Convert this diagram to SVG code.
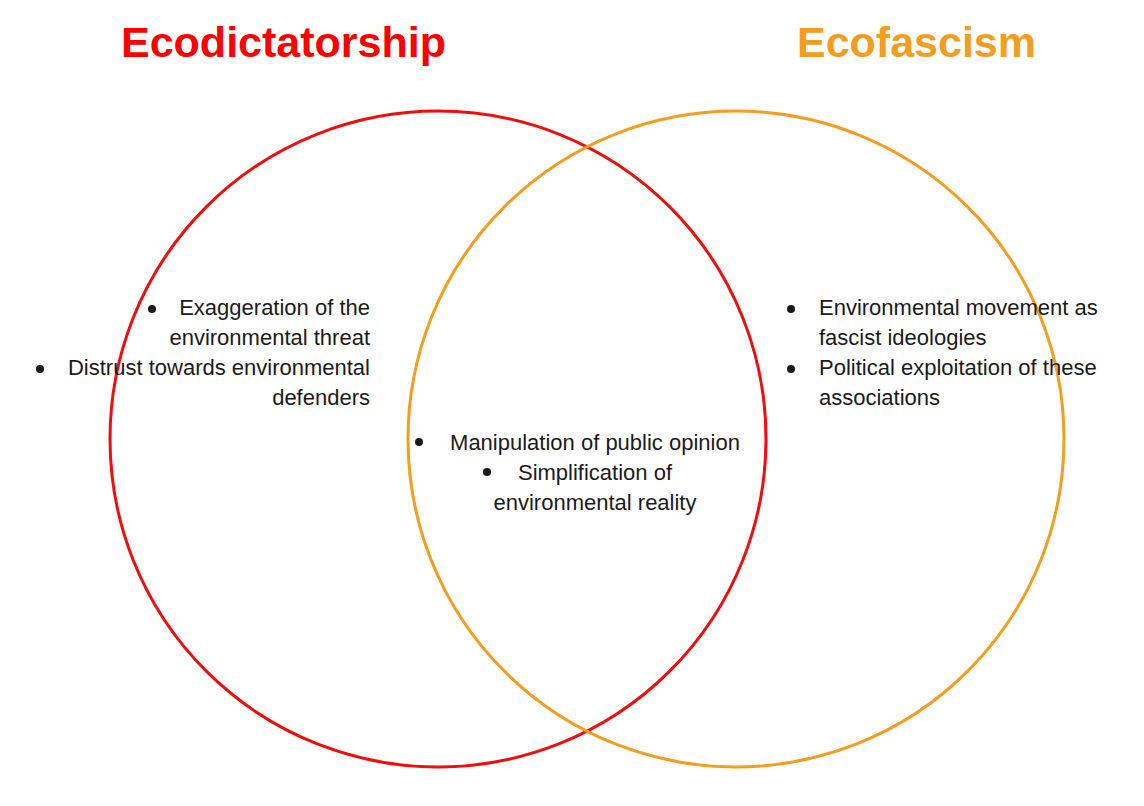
<svg xmlns="http://www.w3.org/2000/svg" width="1144" height="806" viewBox="0 0 1144 806">
<style>
.title{font-family:"Liberation Sans",Arial,sans-serif;font-weight:bold;font-size:43px}
.t{font-family:"Liberation Sans",Arial,sans-serif;font-size:22px;fill:#1a1a1a}
.b{fill:#1a1a1a}
.circ{fill:none;stroke-width:3}
</style>
<rect width="1144" height="806" fill="#fff"/>
<g id="ecodictatorship">
<circle class="circ" cx="438" cy="439" r="328" stroke="#f20d0d"/>
<text class="title" x="121" y="57" fill="#ff0000">Ecodictatorship</text>
<circle class="b" cx="152" cy="309" r="4"/>
<text class="t" x="370" y="315" text-anchor="end">Exaggeration of the</text>
<text class="t" x="370" y="345" text-anchor="end">environmental threat</text>
<circle class="b" cx="40" cy="369" r="4"/>
<text class="t" x="370" y="375" text-anchor="end">Distrust towards environmental</text>
<text class="t" x="370" y="405" text-anchor="end">defenders</text>
</g>
<g id="ecofascism">
<circle class="circ" cx="736" cy="439" r="328" stroke="#f59d1c"/>
<text class="title" x="797" y="57" fill="#f59d1c">Ecofascism</text>
<circle class="b" cx="791" cy="309" r="4"/>
<text class="t" x="819" y="315">Environmental movement as</text>
<text class="t" x="819" y="345">fascist ideologies</text>
<circle class="b" cx="791" cy="369" r="4"/>
<text class="t" x="819" y="375">Political exploitation of these</text>
<text class="t" x="819" y="405">associations</text>
</g>
<g id="overlap">
<circle class="b" cx="419" cy="442" r="4"/>
<text class="t" x="595" y="450" text-anchor="middle">Manipulation of public opinion</text>
<circle class="b" cx="487" cy="472" r="4"/>
<text class="t" x="595" y="480" text-anchor="middle">Simplification of</text>
<text class="t" x="595" y="510" text-anchor="middle">environmental reality</text>
</g>
<g id="connectors"/>
</svg>
